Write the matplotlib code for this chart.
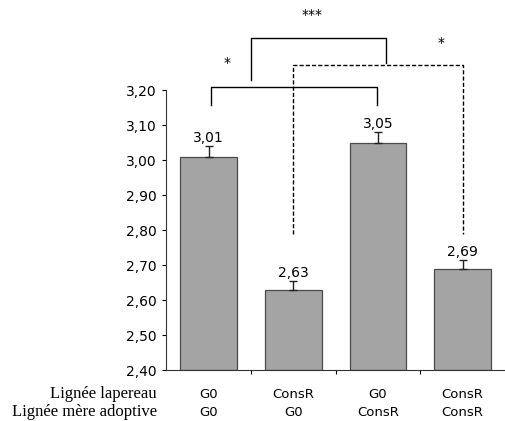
import matplotlib.pyplot as plt
import numpy as np

# data
lapereau = ['G0', 'ConsR', 'G0', 'ConsR']
mere = ['G0', 'G0', 'ConsR', 'ConsR']
values = [3.01, 2.63, 3.05, 2.69]
errors = [0.03, 0.025, 0.03, 0.025]
value_labels = ['3,01', '2,63', '3,05', '2,69']
yticks = [2.40, 2.50, 2.60, 2.70, 2.80, 2.90, 3.00, 3.10, 3.20]

fig = plt.figure(figsize=(5.05, 4.21), dpi=100)
ax = fig.add_axes([0.329, 0.121, 0.671, 0.665])

x = np.arange(len(values))
ax.bar(x, np.array(values) - 2.4, bottom=2.4, width=0.67,
       color='#a4a4a4', edgecolor='#4a4a4a', linewidth=0.9, zorder=2)
ax.errorbar(x, values, yerr=[np.zeros(4), errors], fmt='none',
            ecolor='#222222', elinewidth=1, capsize=3, capthick=1, zorder=3)
for xi, v, e, lab in zip(x, values, errors, value_labels):
    ax.text(xi, v + e + 0.003, lab, ha='center', va='bottom', fontsize=10)

ax.set_xlim(-0.5, 3.5)
ax.set_ylim(2.4, 3.2)
ax.set_yticks(yticks)
ax.set_yticklabels([('%.2f' % t).replace('.', ',') for t in yticks], fontsize=10)
ax.tick_params(axis='y', direction='out', length=3, width=0.8, pad=4)
ax.set_xticks([0.5, 1.5, 2.5])
ax.set_xticklabels([])
ax.tick_params(axis='x', direction='out', length=3, width=0.8)
for s in ['top', 'right']:
    ax.spines[s].set_visible(False)
ax.spines['left'].set_color('#333333')
ax.spines['bottom'].set_color('#333333')

# category labels (two rows)
row1 = 1 - 398 / 421
row2 = 1 - 416 / 421
for xi, a, b in zip(x, lapereau, mere):
    px = (xi + 0.5) / 4 * 0.671 + 0.329
    fig.text(px, row1, a, ha='center', va='baseline', fontsize=9.5)
    fig.text(px, row2, b, ha='center', va='baseline', fontsize=9.5)
fig.text(157 / 505, row1, 'Lignée lapereau', ha='right', va='baseline',
         family='Liberation Serif', fontsize=12)
fig.text(157 / 505, row2, 'Lignée mère adoptive', ha='right', va='baseline',
         family='Liberation Serif', fontsize=12)

# significance brackets
kw = dict(color='black', linewidth=1, clip_on=False, zorder=4)
ax.plot([0.035, 0.035, 1.99, 1.99], [3.157, 3.209, 3.209, 3.157], **kw)
ax.plot([0.5, 0.5, 2.1, 2.1], [3.229, 3.349, 3.349, 3.277], **kw)
ax.plot([1.0, 1.0, 3.0, 3.0], [2.79, 3.271, 3.271, 2.79], linestyle=(0, (3, 1.5)), **kw)
ax.text(0.22, 3.277, '*', ha='center', va='center', fontsize=10)
ax.text(1.22, 3.414, '***', ha='center', va='center', fontsize=10)
ax.text(2.75, 3.334, '*', ha='center', va='center', fontsize=10)

plt.savefig('out.png', dpi=100)
